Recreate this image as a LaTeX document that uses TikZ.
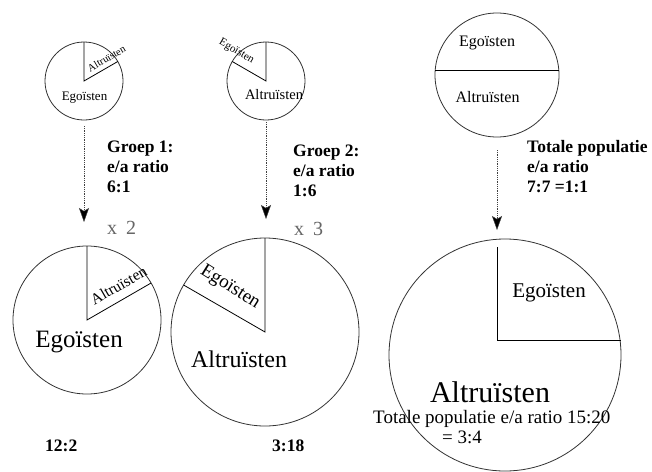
\documentclass[tikz,border=0pt]{standalone}
\usepackage{fontspec}
\setmainfont{Liberation Serif}
\usetikzlibrary{arrows.meta}
\newcommand{\fsz}[1]{\fontsize{#1}{#1}\selectfont}
\begin{document}
\begin{tikzpicture}[x=1pt,y=1pt,
  pie/.style={circle, draw=black!80, line width=0.8pt, inner sep=0pt, outer sep=0pt, minimum size=#1},
  wedge/.style={draw=black, line width=0.8pt},
  flow/.style={draw=black!75, line width=0.8pt, densely dotted,
    -{Stealth[length=14pt,width=10pt,inset=3pt,fill=black,line width=0.4pt]}},
  lbl/.style={inner sep=0pt, anchor=base west, font=\fsz{17.5}\bfseries},
  times/.style={inner sep=0pt, anchor=base west, text=black!60, font=\fsz{20}},
  txt/.style={inner sep=0pt, anchor=base},
  tilt/.style={inner sep=0pt, anchor=center, rotate=#1}]

\fill[white] (0,0) rectangle (652,-471);
\useasboundingbox (0,0) rectangle (652,-471);

% ---- group 1 : small pie 6:1, large pie 12:2
\node[pie=78pt] (s1) at (84,-81) {};
\draw[wedge] (s1.north) -- (s1.center) -- (s1.30);
\node[txt, font=\fsz{13}] (s1e) at (84.5,-100) {Egoïsten};
\node[tilt=30, font=\fsz{10.5}] (s1a) at (106.5,-58.5) {Altruïsten};

\node[pie=148pt] (b1) at (87,-320) {};
\draw[wedge] (b1.north) -- (b1.center) -- (b1.30);
\node[txt, font=\fsz{25}] (b1e) at (79,-347) {Egoïsten};
\node[tilt=30, font=\fsz{15.5}] (b1a) at (118.5,-285.5) {Altruïsten};

\draw[flow] ([yshift=-6pt]s1.south) -- ([yshift=24pt]s1.south |- b1.north);

\node[lbl] (g1a) at (107,-152) {Groep 1:};
\node[lbl] (g1b) at (107,-172) {e/a ratio};
\node[lbl] (g1c) at (107,-192) {6:1};
\node[times] (x2) at (107,-234) {x\hspace{0.45em}2};
\node[lbl] (r1) at (45,-451) {12:2};

% ---- group 2 : small pie 1:6, large pie 3:18
\node[pie=78pt] (s2) at (266,-81) {};
\draw[wedge] (s2.north) -- (s2.center) -- (s2.150);
\node[txt, font=\fsz{14.5}] (s2a) at (274,-99) {Altruïsten};
\node[tilt=-30, font=\fsz{11}] (s2e) at (236.5,-51.5) {Egoïsten};

\node[pie=188pt] (b2) at (265,-332) {};
\draw[wedge] (b2.north) -- (b2.center) -- (b2.150);
\node[txt, font=\fsz{24}] (b2a) at (239,-367) {Altruïsten};
\node[tilt=-32, font=\fsz{19}] (b2e) at (230,-287.5) {Egoïsten};

\draw[flow] ([yshift=-2pt]s2.south) -- ([yshift=19pt]s2.south |- b2.north);

\node[lbl] (g2a) at (293,-156) {Groep 2:};
\node[lbl] (g2b) at (293,-176) {e/a ratio};
\node[lbl] (g2c) at (293,-196) {1:6};
\node[times] (x3) at (294,-235) {x\hspace{0.45em}3};
\node[lbl] (r2) at (272,-451) {3:18};

% ---- total population
\node[pie=124pt] (s3) at (497,-75) {};
\draw[wedge] (s3.176) -- (s3.4);
\node[txt, font=\fsz{16}] (s3e) at (487,-46) {Egoïsten};
\node[txt, font=\fsz{16}] (s3a) at (487.5,-102) {Altruïsten};

\node[pie=232pt] (b3) at (505,-355) {};
\coordinate (b3c) at (497,-340);
\draw[wedge] ([yshift=93pt]b3c) -- (b3c) -- (b3c -| b3.east);
\node[txt, font=\fsz{21}] (b3e) at (549,-297) {Egoïsten};
\node[txt, font=\fsz{30}] (b3a) at (490,-402) {Altruïsten};
\node[inner sep=0pt, anchor=base west, font=\fsz{19}] (b3t) at (373,-423) {Totale populatie e/a ratio 15:20};
\node[inner sep=0pt, anchor=base west, font=\fsz{19}] (b3r) at (442,-443) {= 3:4};

\draw[flow] ([yshift=-13pt]s3.south) -- ([yshift=9pt]s3.south |- b3.north);

\node[lbl] (g3a) at (527,-152) {Totale populatie};
\node[lbl] (g3b) at (527,-172) {e/a ratio};
\node[lbl] (g3c) at (527,-192) {7:7 =1:1};
\end{tikzpicture}
\end{document}
